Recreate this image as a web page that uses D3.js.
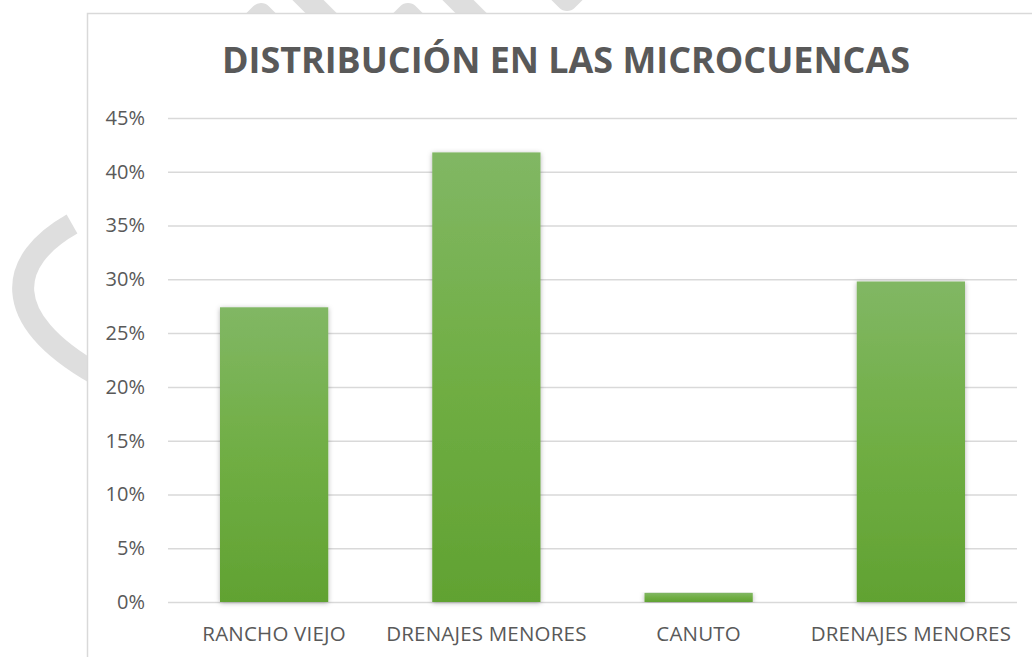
<!DOCTYPE html>
<html>
<head>
<meta charset="utf-8">
<script src="https://cdn.jsdelivr.net/npm/d3@7"></script>
<style>
  body { margin: 0; background: #fff; }
  svg { display: block; }
</style>
</head>
<body>
<svg id="chart" width="1032" height="657"></svg>
<script>
// data
var categories = ["RANCHO VIEJO", "DRENAJES MENORES", "CANUTO", "DRENAJES MENORES"];
var shares = [0.274, 0.418, 0.0085, 0.298];
var tickValues = [0, 0.05, 0.10, 0.15, 0.20, 0.25, 0.30, 0.35, 0.40, 0.45];
var title = "DISTRIBUCIÓN EN LAS MICROCUENCAS";

var svg = d3.select("#chart");
var txtColor = "#595959";
var gridColor = "#d9d9d9";

// faint watermark behind the chart box
var wm = svg.append("g")
  .attr("fill", "none")
  .attr("stroke", "#dedede")
  .attr("stroke-width", 22)
  .attr("stroke-linejoin", "round");
wm.append("path").attr("d", "M72,224 C8,260 -2,318 96,374");
wm.append("polyline").attr("points", "238,37 261,14 284,37");
wm.append("line").attr("x1", 296).attr("y1", -12).attr("x2", 346).attr("y2", 38);
wm.append("polyline").attr("points", "385,37 408,14 431,37");
wm.append("line").attr("x1", 446).attr("y1", -12).attr("x2", 496).attr("y2", 38);
wm.append("polyline").attr("points", "545,-22 567,0 589,-22");

// chart box
svg.append("rect")
  .attr("x", 87.5).attr("y", 13.5)
  .attr("width", 1000).attr("height", 700)
  .attr("fill", "#fff")
  .attr("stroke", gridColor)
  .attr("stroke-width", 1.5);

var defs = svg.append("defs");
var grad = defs.append("linearGradient")
  .attr("id", "barFill")
  .attr("x1", 0).attr("y1", 0).attr("x2", 0).attr("y2", 1);
grad.append("stop").attr("offset", "0%").attr("stop-color", "#81b764");
grad.append("stop").attr("offset", "50%").attr("stop-color", "#70ae44");
grad.append("stop").attr("offset", "100%").attr("stop-color", "#61a232");

var shadow = defs.append("filter")
  .attr("id", "barShadow")
  .attr("x", "-20%").attr("y", "-5%").attr("width", "140%").attr("height", "110%");
shadow.append("feDropShadow")
  .attr("dx", 0).attr("dy", 1)
  .attr("stdDeviation", 2.5)
  .attr("flood-color", "#000")
  .attr("flood-opacity", 0.3);

var plot = { left: 168, right: 1017, top: 118, bottom: 602 };

var x = d3.scaleBand()
  .domain(d3.range(categories.length))
  .range([plot.left, plot.right])
  .paddingInner(0.49)
  .paddingOuter(0.245);

var y = d3.scaleLinear()
  .domain([0, 0.45])
  .range([plot.bottom, plot.top]);

// title
svg.append("text")
  .attr("x", 566)
  .attr("y", 73)
  .attr("text-anchor", "middle")
  .attr("font-family", "'Open Sans', sans-serif")
  .attr("font-weight", "bold")
  .attr("font-size", 36)
  .attr("fill", txtColor)
  .attr("textLength", 688)
  .attr("lengthAdjust", "spacingAndGlyphs")
  .text(title);

// gridlines + y labels
var yAxis = svg.append("g")
  .attr("transform", "translate(" + plot.left + ",0)")
  .call(d3.axisLeft(y)
    .tickValues(tickValues)
    .tickSize(-(plot.right - plot.left))
    .tickPadding(23)
    .tickFormat(d3.format(".0%")));
yAxis.select(".domain").remove();
yAxis.selectAll(".tick line")
  .attr("stroke", gridColor)
  .attr("stroke-width", 1.5);
yAxis.selectAll(".tick text")
  .attr("fill", txtColor)
  .attr("font-family", "'Open Sans', sans-serif")
  .attr("font-size", 20);

// bars
svg.append("g")
  .selectAll("rect")
  .data(shares)
  .join("rect")
  .attr("x", function(d, i) { return x(i); })
  .attr("y", function(d) { return y(d); })
  .attr("width", x.bandwidth())
  .attr("height", function(d) { return y(0) - y(d); })
  .attr("fill", "url(#barFill)")
  .attr("filter", "url(#barShadow)");

// category labels
var xAxis = svg.append("g")
  .attr("transform", "translate(0," + plot.bottom + ")")
  .call(d3.axisBottom(x)
    .tickSize(0)
    .tickPadding(24)
    .tickFormat(function(i) { return categories[i]; }));
xAxis.select(".domain").remove();
xAxis.selectAll(".tick text")
  .attr("fill", txtColor)
  .attr("font-family", "'Open Sans', sans-serif")
  .attr("font-size", 20.5)
  .attr("letter-spacing", 0.2);
</script>
</body>
</html>
